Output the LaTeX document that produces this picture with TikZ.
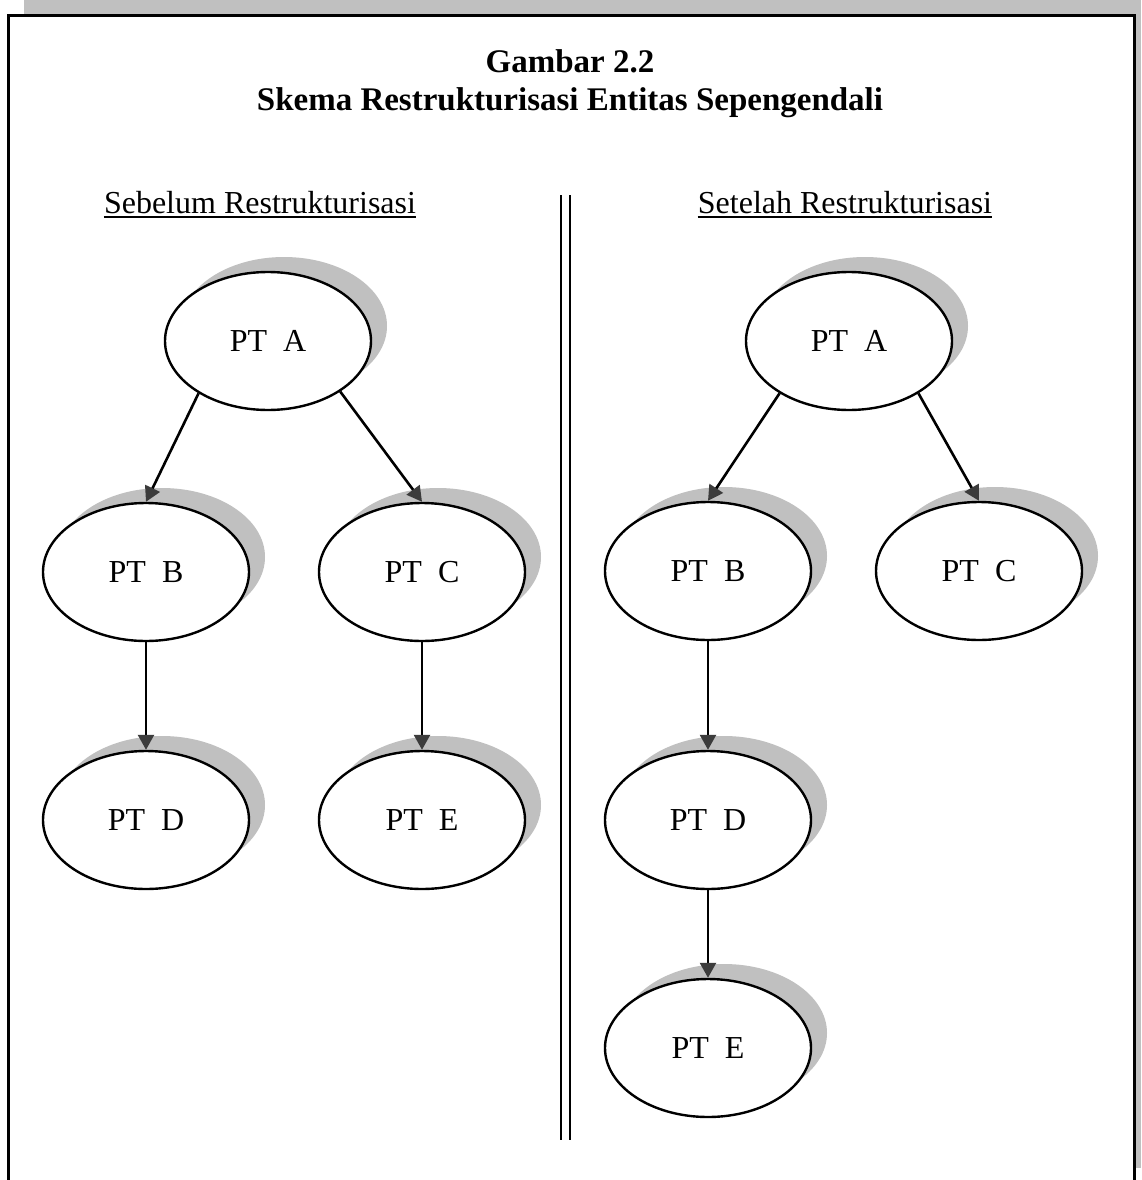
\documentclass[tikz,border=0pt]{standalone}
\usepackage{fontspec}
\setmainfont{Liberation Serif}
\usetikzlibrary{shapes.geometric,arrows.meta,shadows}
\definecolor{shgray}{RGB}{192,192,192}
\definecolor{tipgray}{RGB}{60,60,60}
\begin{document}
\begin{tikzpicture}[x=1pt,y=-1pt,
  ent/.style={ellipse,draw=black,line width=2.4pt,fill=white,
    minimum width=206pt,minimum height=138pt,inner sep=0pt,
    font=\fontsize{32}{36}\selectfont,
    drop shadow={shadow xshift=16pt,shadow yshift=15pt,fill=shgray,opacity=1}},
  con/.style={draw=black,line width=2.6pt,-{Triangle[length=15pt,width=16pt,color=tipgray]}},
  ttl/.style={font=\bfseries\fontsize{33}{38}\selectfont,anchor=base,inner sep=0pt},
  sub/.style={font=\fontsize{32}{36}\selectfont,anchor=base,inner sep=0pt}]
\useasboundingbox (0,0) rectangle (1141,1180);
\clip (0,0) rectangle (1141,1180);
% frame with shadow
\fill[shgray] (24,0) rectangle (1141,1168);
\draw[line width=3pt,fill=white] (8,16) rectangle (1134,1210);
% titles
\node[ttl] (t1) at (570,73) {Gambar 2.2};
\node[ttl] (t2) at (570,111) {Skema Restrukturisasi Entitas Sepengendali};
% subtitles
\node[sub] (s1) at (260,213) {Sebelum Restrukturisasi};
\node[sub] (s2) at (845,213) {Setelah Restrukturisasi};
\draw[line width=2.2pt] ([yshift=-4pt]s1.base west) -- ([yshift=-4pt]s1.base east);
\draw[line width=2.2pt] ([yshift=-4pt]s2.base west) -- ([yshift=-4pt]s2.base east);
% divider
\coordinate (d1t) at (561,195);
\coordinate (d1b) at (561,1140);
\coordinate (d2t) at (570,195);
\coordinate (d2b) at (570,1140);
\draw[line width=2.2pt] (d1t) -- (d1b);
\draw[line width=2.2pt] (d2t) -- (d2b);
% left tree
\node[ent] (lA) at (268,341) {PT\hspace{0.5em}A};
\node[ent] (lB) at (146,572) {PT\hspace{0.5em}B};
\node[ent] (lC) at (422,572) {PT\hspace{0.5em}C};
\node[ent] (lD) at (146,820) {PT\hspace{0.5em}D};
\node[ent] (lE) at (422,820) {PT\hspace{0.5em}E};
\draw[con] (lA.217) -- (lB.north);
\draw[con] (lA.325) -- (lC.north);
\draw[con] (lB.south) -- (lD.north);
\draw[con] (lC.south) -- (lE.north);
% right tree
\node[ent] (rA) at (849,341) {PT\hspace{0.5em}A};
\node[ent] (rB) at (708,571) {PT\hspace{0.5em}B};
\node[ent] (rC) at (979,571) {PT\hspace{0.5em}C};
\node[ent] (rD) at (708,820) {PT\hspace{0.5em}D};
\node[ent] (rE) at (708,1048) {PT\hspace{0.5em}E};
\draw[con] (rA.217) -- (rB.north);
\draw[con] (rA.323) -- (rC.north);
\draw[con] (rB.south) -- (rD.north);
\draw[con] (rD.south) -- (rE.north);
\end{tikzpicture}
\end{document}
